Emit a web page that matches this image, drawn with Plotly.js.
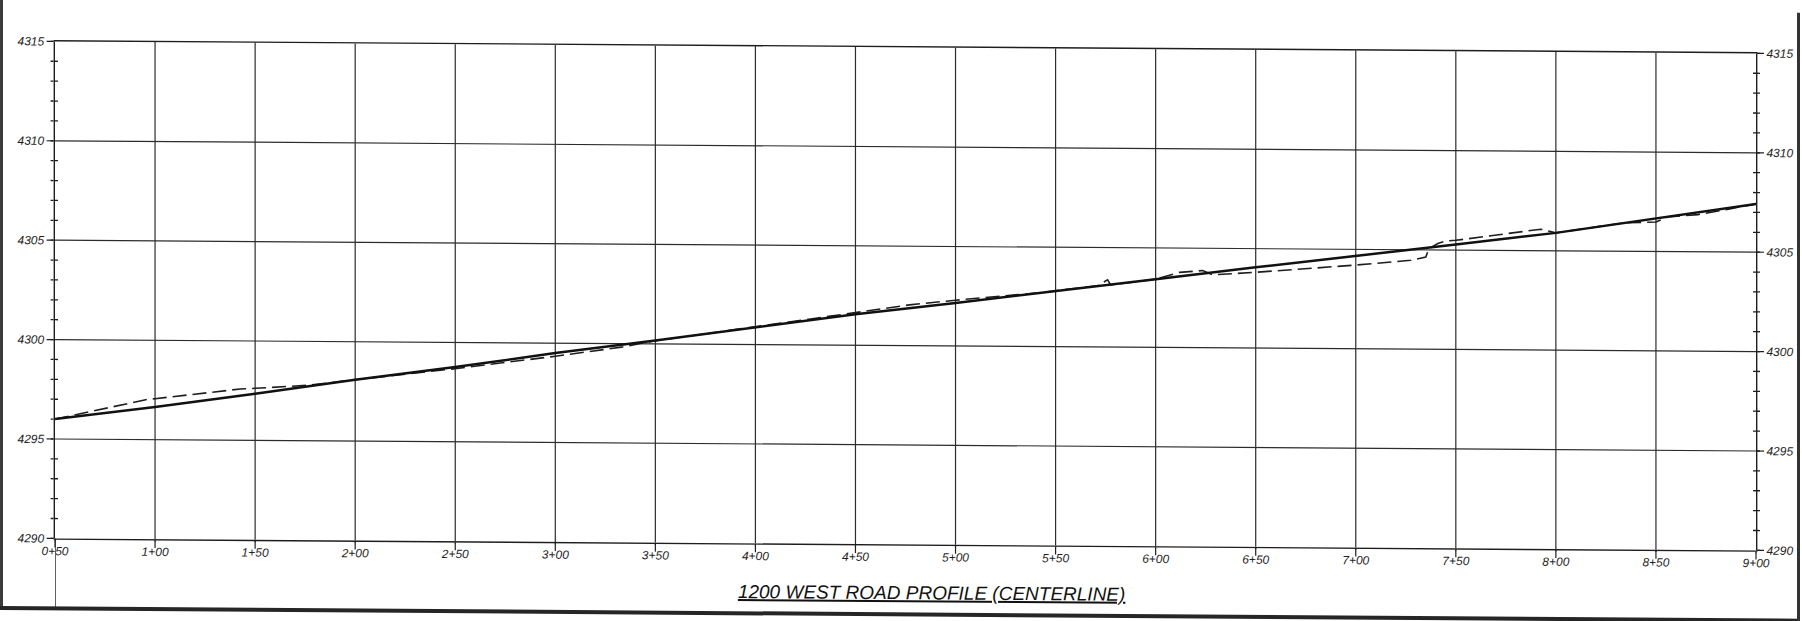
<!DOCTYPE html>
<html><head><meta charset="utf-8">
<script src="https://cdn.plot.ly/plotly-3.0.1.min.js"></script>
<style>
html,body{margin:0;padding:0;background:#fff;overflow:hidden;}
#sheet{position:absolute;left:0;top:0;width:1802px;height:621px;transform:skewY(0.404deg);transform-origin:0 0;}
#chart{position:absolute;left:0;top:0;width:1802px;height:621px;}
#chart svg path{shape-rendering:geometricPrecision !important;}
.fl{position:absolute;left:0;top:0;width:3px;height:610px;background:#3a3d3a;}
.fb{position:absolute;left:0;top:606px;width:1800px;height:4px;background:#262626;}
.fr{position:absolute;left:1797px;top:0;width:3px;height:610px;background:#333;}
</style></head>
<body>
<div id="sheet">
  <div id="chart"></div>
  <div class="fl"></div><div class="fb"></div><div class="fr"></div>
</div>
<script>
// Station ticks (feet) and their labels
const stations = [50,100,150,200,250,300,350,400,450,500,550,600,650,700,750,800,850,900];
const stationLabels = ['0+50','1+00','1+50','2+00','2+50','3+00','3+50','4+00','4+50','5+00','5+50','6+00','6+50','7+00','7+50','8+00','8+50','9+00'];
// Elevation ticks
const elevTicks = [4290,4295,4300,4305,4310,4315];
const elevLabels = ['4290','4295','4300','4305','4310','4315'];

// Proposed centerline profile (solid)
const proposedStation = [50,100,150,200,250,300,350,400,450,500,550,600,650,700,750,800,850,900];
const proposedElev = [4296.00,4296.64,4297.35,4298.09,4298.76,4299.50,4300.17,4300.88,4301.56,4302.16,4302.81,4303.43,4304.06,4304.66,4305.28,4305.90,4306.68,4307.43];

// Existing ground along centerline (dashed)
const existingStation = [50,96.5,100,142.5,150,177.5,200,226,250,300,333,348,400,450,477,500,542,550,571,576,577.5,600,612,623.5,628.5,650,692.5,700,727.5,735,736.5,741,745,750,792.5,797.5,800,834,850,856,871,887.5,900];
const existingElev = [4296.00,4297.03,4297.06,4297.58,4297.62,4297.80,4298.09,4298.40,4298.68,4299.34,4299.82,4300.12,4300.88,4301.64,4302.05,4302.30,4302.71,4302.81,4303.08,4303.38,4303.12,4303.43,4303.78,4303.88,4303.67,4303.81,4304.13,4304.21,4304.47,4304.64,4305.06,4305.32,4305.45,4305.49,4306.08,4305.95,4305.90,4306.43,4306.48,4306.74,4306.87,4307.18,4307.43];

const titleText = '1200 WEST ROAD PROFILE (CENTERLINE)';

const ink = '#1e1e1e';
const gridInk = '#2c2c2c';
const tickFont = {family:'Liberation Sans, Arial, sans-serif', size:12, color:ink, style:'italic'};
const xRange = [stations[0], stations[stations.length-1]];
const yRange = [elevTicks[0], elevTicks[elevTicks.length-1]];

// helper traces so the extra tick axes (inner/right ticks) are drawn; invisible
function carrier(xa, ya){
  return {x: proposedStation, y: proposedElev, type:'scatter', mode:'lines', xaxis:xa, yaxis:ya,
          line:{color:'rgba(0,0,0,0)', width:0}, opacity:0, hoverinfo:'skip', showlegend:false};
}

const traces = [
  carrier('x','y2'), carrier('x','y3'), carrier('x','y4'), carrier('x2','y'),
  {x: existingStation, y: existingElev, type:'scatter', mode:'lines',
   line:{color:'#1e1e1e', width:1.6, dash:'14px,6px'}, hoverinfo:'skip'},
  {x: proposedStation, y: proposedElev, type:'scatter', mode:'lines',
   line:{color:'#111', width:2.5}, hoverinfo:'skip'}
];

const minorOut = {dtick:1, tick0:yRange[0], ticks:'outside', ticklen:3, tickwidth:1.3, tickcolor:ink, showgrid:false};
const minorIn = {dtick:1, tick0:yRange[0], ticks:'inside', ticklen:3, tickwidth:1.3, tickcolor:ink, showgrid:false};

const layout = {
  width:1802, height:621,
  margin:{l:55, r:46, t:41, b:83},
  paper_bgcolor:'rgba(0,0,0,0)', plot_bgcolor:'#fff',
  showlegend:false, hovermode:false,
  title:{text:titleText, xref:'container', yref:'container', x:0.517, y:0.056,
         xanchor:'center', yanchor:'middle',
         font:{family:'Liberation Sans, Arial, sans-serif', size:19, color:'#111', style:'italic', lineposition:'under'}},
  xaxis:{range:xRange, tickvals:stations, ticktext:stationLabels,
         ticks:'outside', ticklen:1, tickwidth:1.2, tickcolor:ink, tickfont:tickFont,
         showgrid:true, gridcolor:gridInk, gridwidth:1.2,
         showline:true, mirror:true, linecolor:ink, linewidth:1.4, zeroline:false, fixedrange:true},
  xaxis2:{range:xRange, overlaying:'x', side:'bottom', anchor:'y', tickvals:stations, showticklabels:false,
          ticks:'outside', ticklen:8, tickwidth:1.2, tickcolor:ink, showgrid:false, showline:false,
          zeroline:false, fixedrange:true},
  yaxis:{range:yRange, tickvals:elevTicks, ticktext:elevLabels, side:'left',
         ticks:'outside', ticklen:7, tickwidth:1.2, tickcolor:ink, tickfont:tickFont,
         showgrid:true, gridcolor:gridInk, gridwidth:1.2,
         showline:true, mirror:true, linecolor:ink, linewidth:1.4, zeroline:false,
         minor:minorOut, fixedrange:true},
  yaxis2:{range:yRange, overlaying:'y', side:'left', anchor:'x', showticklabels:false, showgrid:false,
          ticks:'', minor:minorIn, zeroline:false, showline:false, fixedrange:true},
  yaxis3:{range:yRange, overlaying:'y', side:'right', anchor:'x', tickvals:elevTicks, ticktext:elevLabels,
          ticks:'outside', ticklen:7, tickwidth:1.2, tickcolor:ink, tickfont:tickFont, showgrid:false,
          minor:minorOut, zeroline:false, showline:false, fixedrange:true},
  yaxis4:{range:yRange, overlaying:'y', side:'right', anchor:'x', showticklabels:false, showgrid:false,
          ticks:'', minor:minorIn, zeroline:false, showline:false, fixedrange:true},
  shapes:[
    {type:'line', xref:'x', yref:'paper', x0:stations[0], x1:stations[0], y0:0, y1:-0.139,
     line:{color:ink, width:1.4}, layer:'above'}
  ]
};

Plotly.newPlot('chart', traces, layout, {staticPlot:true, displayModeBar:false});
</script>
</body></html>
